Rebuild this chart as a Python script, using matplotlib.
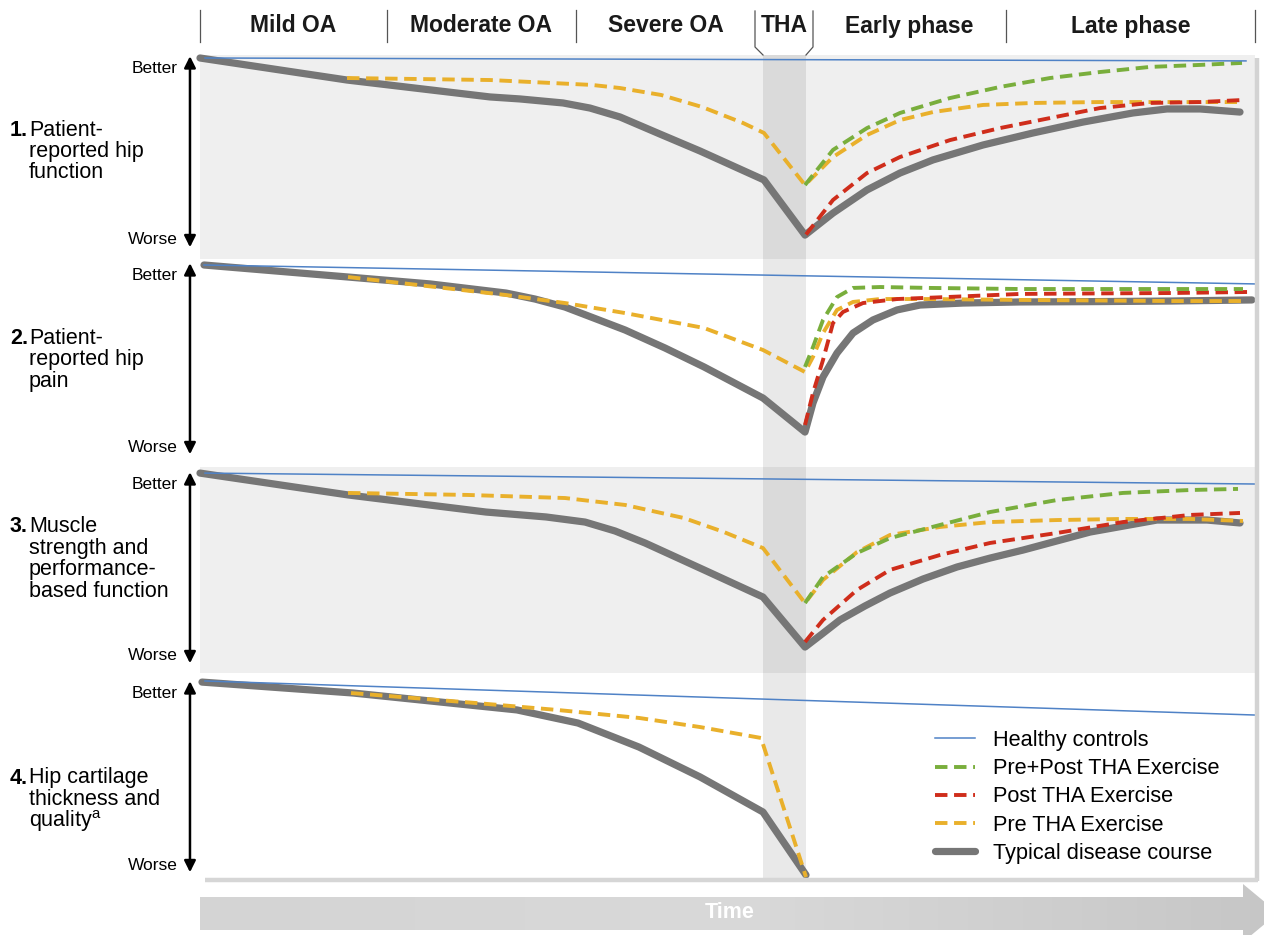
import numpy as np
import matplotlib.pyplot as plt
from matplotlib.patches import Polygon
from matplotlib.colors import LinearSegmentedColormap

plt.rcParams["font.family"] = ["Liberation Sans", "DejaVu Sans"]
plt.rcParams["mathtext.fontset"] = "custom"
plt.rcParams["mathtext.rm"] = "Liberation Sans"

# ---- data: time in arbitrary units, score 100 = better, 0 = worse ----
phase_names = ["Mild OA", "Moderate OA", "Severe OA", "THA", "Early phase", "Late phase"]
phase_edges = [0, 18.7, 37.6, 55.5, 61.3, 80.6, 105.5]
tha_window = [56.3, 60.6]

legend_labels = ["Healthy controls", "Pre+Post THA Exercise", "Post THA Exercise",
                 "Pre THA Exercise", "Typical disease course"]

# 1. patient-reported hip function
p1_health_t = [0.5, 104.6]
p1_health = [100, 98.4]
p1_disease_t = [0, 14.7, 29, 32, 36.3, 39, 42, 46, 50, 56.4, 60.5, 63.3, 66.7, 70, 73.3,
                78.3, 83.3, 88.3, 93.3, 96.7, 100, 104]
p1_disease = [100, 87.9, 78.6, 77.5, 75.3, 72.5, 67.6, 58.2, 48.9, 33.0, 2.7, 14.8, 27.5,
              36.8, 44.0, 52.2, 58.8, 64.8, 69.8, 72.0, 72.0, 70.3]
p1_pre_t = [14.7, 29, 39.2, 42, 46.1, 50.2, 54.3, 56.4, 60.5, 63.3, 66.7, 70, 73.3, 78.3,
            83.3, 90, 96.7, 103.7]
p1_pre = [89.0, 87.9, 85.2, 83.5, 79.7, 73.1, 64.3, 58.8, 30.2, 45.6, 57.7, 65.9, 70.3,
          74.2, 75.3, 75.8, 75.8, 75.8]
p1_both_t = [60.5, 63.3, 66.7, 70, 75, 80, 85, 90, 95, 100, 104.2]
p1_both = [30.2, 49.5, 61.5, 69.8, 78.0, 84.1, 89.0, 92.3, 95.1, 96.2, 97.3]
p1_post_t = [60.6, 63.3, 66.7, 70, 75, 80, 85, 90, 95, 100, 104.2]
p1_post = [3.0, 22.0, 36.8, 45.6, 54.9, 61.5, 67.0, 72.5, 75.3, 75.8, 76.9]

# 2. patient-reported hip pain
p2_health_t = [0.4, 105.5]
p2_health = [100, 89.6]
p2_disease_t = [0.4, 14.8, 23, 30.6, 33.5, 36.5, 42.5, 46.5, 50.4, 56.3, 60.5, 61.3, 62.3,
                63.7, 65.3, 67.3, 69.7, 72, 76.3, 82, 90, 97, 105.2]
p2_disease = [100, 93.4, 89.6, 84.6, 81.3, 76.9, 64.3, 54.4, 44.0, 26.9, 8.2, 24.2, 38.5,
              51.6, 62.6, 69.8, 75.3, 78.0, 79.1, 79.7, 79.9, 80.2, 80.8]
p2_pre_t = [14.8, 30.6, 36.5, 42.5, 50.4, 56.3, 60.5, 61.3, 62.3, 63.7, 65.3, 68, 73, 82,
            90, 97, 104.3]
p2_pre = [93.4, 83.5, 79.1, 73.6, 65.4, 53.3, 41.2, 49.5, 62.6, 75.3, 79.7, 81.3, 81.3,
          80.8, 80.5, 80.2, 80.2]
p2_both_t = [60.5, 61.3, 62.3, 63.7, 65.3, 68, 73, 82, 90, 97, 104.3]
p2_both = [44.0, 54.9, 69.8, 82.4, 87.4, 87.9, 87.4, 86.8, 86.8, 86.8, 86.8]
p2_post_t = [60.5, 61.3, 62.3, 63.3, 64.3, 66.3, 69.7, 74.7, 82, 90, 97, 105.2]
p2_post = [12.1, 29.7, 47.8, 68.1, 74.2, 79.1, 81.3, 82.4, 84.1, 84.4, 84.6, 85.2]

# 3. muscle strength and performance-based function
p3_health_t = [0.5, 105.5]
p3_health = [100.5, 94.5]
p3_disease_t = [0, 14.8, 28.6, 34.6, 38.5, 41.5, 44.5, 50.4, 56.3, 60.5, 62.3, 64, 66.5,
                69, 72.3, 75.7, 79, 82.3, 89, 95.7, 100.7, 104]
p3_disease = [100.5, 88.5, 79.1, 76.4, 73.6, 68.7, 62.1, 47.3, 32.4, 4.9, 12.5, 19.8,
              27.5, 34.6, 42.3, 48.9, 53.8, 58.2, 68.1, 74.7, 74.7, 73.1]
p3_pre_t = [14.8, 26.7, 36.5, 42.5, 48.4, 52.4, 56.3, 60.5, 62.3, 65.7, 69, 74, 79, 85.7,
            92.3, 99, 104.3]
p3_pre = [89.6, 88.5, 86.8, 83.0, 75.8, 68.1, 59.3, 29.1, 41.8, 57.1, 66.5, 70.9, 73.6,
          74.7, 75.3, 75.3, 74.2]
p3_both_t = [60.5, 62.3, 65.7, 69, 74, 79, 85.7, 92.3, 99, 103.8]
p3_both = [29.1, 43.4, 56.6, 64.8, 72.0, 79.1, 85.7, 89.6, 91.2, 91.8]
p3_post_t = [60.5, 62.3, 65.7, 69, 74, 79, 85.7, 92.3, 99, 104]
p3_post = [7.7, 19.8, 36.3, 47.3, 55.5, 62.1, 67.6, 73.6, 77.5, 78.6]

# 4. hip cartilage thickness and quality
p4_health_t = [0.5, 105.5]
p4_health = [101.1, 82.4]
p4_disease_t = [0.2, 15.3, 31.7, 37.8, 43.9, 50, 56.3, 60.6]
p4_disease = [100.5, 94.5, 85.2, 78.0, 64.8, 48.4, 29.1, -5.5]
p4_pre_t = [15.1, 27.6, 35.7, 43.9, 50, 56.1, 60.6]
p4_pre = [94.5, 89.0, 85.2, 80.8, 75.8, 69.8, -6.6]

# ---- layout ----
W, H = 1264, 935
X0, X1 = 200, 1255
PX_PER_SCORE = 1.82

styles = {
    "health": dict(color="#4f82c6", lw=1.1, zorder=7),
    "both": dict(color="#79ae3c", lw=2.8, dashes=(3.2, 1.7), zorder=6),
    "post": dict(color="#cf2d1b", lw=2.8, dashes=(3.2, 1.7), zorder=5),
    "pre": dict(color="#e9b02b", lw=2.8, dashes=(3.2, 1.7), zorder=4),
    "disease": dict(color="#767676", lw=5.2, solid_capstyle="round",
                    solid_joinstyle="round", zorder=3),
}

panels = [
    dict(num="1.", text=["Patient-", "reported hip", "function"], band=(55, 259), ref=240,
         bg="#efefef", label_y=129,
         series={"health": (p1_health_t, p1_health), "disease": (p1_disease_t, p1_disease),
                 "pre": (p1_pre_t, p1_pre), "post": (p1_post_t, p1_post),
                 "both": (p1_both_t, p1_both)}),
    dict(num="2.", text=["Patient-", "reported hip", "pain"], band=(259, 467), ref=447,
         bg="white", label_y=337,
         series={"health": (p2_health_t, p2_health), "disease": (p2_disease_t, p2_disease),
                 "pre": (p2_pre_t, p2_pre), "post": (p2_post_t, p2_post),
                 "both": (p2_both_t, p2_both)}),
    dict(num="3.", text=["Muscle", "strength and", "performance-", "based function"],
         band=(467, 673), ref=656, bg="#efefef", label_y=526,
         series={"health": (p3_health_t, p3_health), "disease": (p3_disease_t, p3_disease),
                 "pre": (p3_pre_t, p3_pre), "post": (p3_post_t, p3_post),
                 "both": (p3_both_t, p3_both)}),
    dict(num="4.", text=["Hip cartilage", "thickness and", r"quality$^{\rm a}$"],
         band=(673, 880), ref=865, bg="white", label_y=777,
         series={"health": (p4_health_t, p4_health), "disease": (p4_disease_t, p4_disease),
                 "pre": (p4_pre_t, p4_pre)}),
]

fig = plt.figure(figsize=(W / 100, H / 100), dpi=100)

handles = {}
for p in panels:
    top, bot = p["band"]
    ax = fig.add_axes([X0 / W, 1 - bot / H, (X1 - X0) / W, (bot - top) / H])
    ax.set_xlim(phase_edges[0], phase_edges[-1])
    ax.set_ylim(-(bot - p["ref"]) / PX_PER_SCORE, (p["ref"] - top) / PX_PER_SCORE)
    ax.set_facecolor(p["bg"])
    ax.set_xticks([])
    ax.set_yticks([])
    for s in ax.spines.values():
        s.set_visible(False)
    ax.axvspan(tha_window[0], tha_window[1], color="black", alpha=0.085, lw=0, zorder=1)

    for key in ["disease", "pre", "post", "both", "health"]:
        if key in p["series"]:
            t, v = p["series"][key]
            line, = ax.plot(t, v, clip_on=False, **styles[key])
            handles.setdefault(key, line)

    # better / worse double arrow
    ax.annotate("", xy=(-0.0095, -4), xytext=(-0.0095, 101),
                xycoords=("axes fraction", "data"), textcoords=("axes fraction", "data"),
                arrowprops=dict(arrowstyle="<|-|>", color="black", lw=1.8, mutation_scale=17,
                                shrinkA=0, shrinkB=0), annotation_clip=False)
    ax.text(-0.021, 94, "Better", transform=ax.get_yaxis_transform(), ha="right",
            va="center", fontsize=12.5, clip_on=False)
    ax.text(-0.021, 0, "Worse", transform=ax.get_yaxis_transform(), ha="right",
            va="center", fontsize=12.5, clip_on=False)

    # panel label
    fig.text(10 / W, 1 - (p["label_y"] + 1) / H, p["num"], fontsize=15.5, fontweight="bold",
             ha="left", va="center")
    for i, line_txt in enumerate(p["text"]):
        fig.text(29 / W, 1 - (p["label_y"] + 1 + i * 21.5) / H, line_txt, fontsize=15.5,
                 ha="left", va="center")

# header with phases
hdr = fig.add_axes([X0 / W, 1 - 55 / H, (X1 - X0) / W, 55 / H])
hdr.set_xlim(phase_edges[0], phase_edges[-1])
hdr.set_ylim(55, 0)
hdr.set_axis_off()
for e in [phase_edges[0], phase_edges[1], phase_edges[2], phase_edges[5], phase_edges[6]]:
    hdr.plot([e, e], [10, 42], color="#555555", lw=0.9, clip_on=False)
hdr.plot([phase_edges[3], phase_edges[3], tha_window[0]], [11, 47, 55], color="#555555",
         lw=0.9, clip_on=False)
hdr.plot([phase_edges[4], phase_edges[4], tha_window[1]], [11, 47, 55], color="#555555",
         lw=0.9, clip_on=False)
for i, name in enumerate(phase_names):
    mid = (phase_edges[i] + phase_edges[i + 1]) / 2
    hdr.text(mid, 26, name, ha="center", va="center", fontsize=16.5, fontweight="bold",
             color="#1a1a1a")

# decorations: shadow frame and time arrow (pixel space)
deco = fig.add_axes([0, 0, 1, 1])
deco.set_xlim(0, W)
deco.set_ylim(H, 0)
deco.set_axis_off()
deco.patch.set_alpha(0)
deco.plot([1257, 1257], [58, 881], color="#d3d3d3", lw=3.2, solid_capstyle="butt")
deco.plot([205, 1258], [880, 880], color="#d6d6d6", lw=3.2, solid_capstyle="butt")

arrow = Polygon([(200, 897), (1243, 897), (1243, 884), (1278, 913), (1243, 942),
                 (1243, 930), (200, 930)], closed=True, facecolor="none", edgecolor="none")
deco.add_patch(arrow)
grad = np.linspace(0, 1, 256).reshape(1, -1)
cmap = LinearSegmentedColormap.from_list("tarrow", ["#d4d4d4", "#d9d9d9", "#c6c6c6"])
im = deco.imshow(grad, extent=[200, 1280, 945, 880], aspect="auto", cmap=cmap, zorder=2)
im.set_clip_path(arrow)
deco.text(730, 913, "Time", ha="center", va="center", color="white", fontsize=15.5,
          fontweight="bold", zorder=3)

order = ["health", "both", "post", "pre", "disease"]
fig.legend([handles[k] for k in order], legend_labels, loc="upper left",
           bbox_to_anchor=(935 / W, 1 - 730 / H), frameon=False, fontsize=15.7,
           handlelength=1.85, handletextpad=0.8, labelspacing=0.33,
           borderaxespad=0, borderpad=0)

fig.savefig("out.png", dpi=100)
